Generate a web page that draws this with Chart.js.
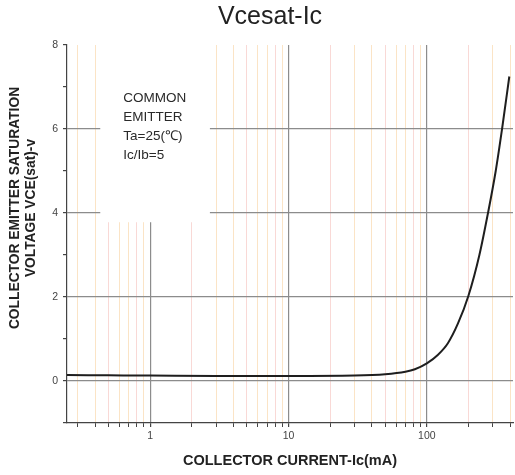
<!DOCTYPE html>
<html>
<head>
<meta charset="utf-8">
<script src="https://cdn.jsdelivr.net/npm/chart.js@4/dist/chart.umd.min.js"></script>
<style>
  html, body { margin: 0; padding: 0; background: #fff; }
  #wrap { width: 515px; height: 475px; }
</style>
</head>
<body>
<div id="wrap"><canvas id="vcesatChart" width="515" height="475"></canvas></div>
<script>
// collector current (mA) and Vce(sat) (V)
const currents = [0.25, 0.5, 1, 3, 10, 30, 50, 70, 82, 100, 120, 142, 168, 200, 240, 277, 315, 350, 395]
const vceSat = [0.14, 0.135, 0.13, 0.12, 0.12, 0.13, 0.16, 0.22, 0.28, 0.42, 0.62, 0.90, 1.37, 2.03, 3.0, 4.0, 5.0, 6.0, 7.25]

const xTicks = [0.3, 0.4, 0.5, 0.6, 0.7, 0.8, 0.9, 1, 2, 3, 4, 5, 6, 7, 8, 9, 10,
  20, 30, 40, 50, 60, 70, 80, 90, 100, 200, 300, 400]
const xLabels = [1, 10, 100]
const yTicks = [-1, 0, 1, 2, 3, 4, 5, 6, 7, 8]
const yLabels = [0, 2, 4, 6, 8]
const yGridLines = [0, 2, 4, 6]

const noteLines = ['COMMON', 'EMITTER', 'Ta=25(\u2103)', 'Ic/Ib=5']
const chartTitle = 'Vcesat-Ic'
const yTitle = ['COLLECTOR EMITTER SATURATION', 'VOLTAGE VCE(sat)-v']

const FONT = '"Liberation Sans", Arial, sans-serif'

function isMajor(v) {
  return xLabels.includes(v)
}

function minorColor(v) {
  // faint orange / pink minor lines like the scanned datasheet
  const d = Math.round(v / Math.pow(10, Math.floor(Math.log10(v) + 1e-9)))
  return (d === 2 || d === 5 || d === 8) ? '#f9d9d6' : '#fbe4c6'
}

// white note box with the test conditions, plus the titles
const decorPlugin = {
  id: 'decor',
  beforeDatasetsDraw(chart) {
    const { ctx, scales: { x, y } } = chart
    const left = x.getPixelForValue(0.435)
    const right = x.getPixelForValue(2.7)
    const top = y.getPixelForValue(8)
    const bottom = y.getPixelForValue(3.78)
    ctx.save()
    ctx.fillStyle = '#fff'
    ctx.fillRect(left, top, right - left, bottom - top)
    ctx.fillStyle = '#2a2a2a'
    ctx.font = '13.5px ' + FONT
    ctx.textBaseline = 'middle'
    noteLines.forEach((t, i) => {
      ctx.fillText(t, left + 23, top + 53 + i * 19)
    })
    ctx.restore()
  },
  afterDraw(chart) {
    const { ctx } = chart
    ctx.save()
    ctx.fillStyle = '#222'
    ctx.textAlign = 'center'
    ctx.textBaseline = 'middle'
    ctx.font = '25px ' + FONT
    ctx.fillText(chartTitle, 270, 17)

    ctx.font = 'bold 13.8px ' + FONT
    ctx.translate(0, 208)
    ctx.rotate(-Math.PI / 2)
    ctx.fillText(yTitle[0], 0, 15)
    ctx.fillText(yTitle[1], 0, 31)
    ctx.restore()
  }
}

const data = {
  datasets: [{
    data: currents.map((c, i) => ({ x: c, y: vceSat[i] })),
    borderColor: '#1e1e1e',
    borderWidth: 2,
    pointRadius: 0,
    fill: false,
    cubicInterpolationMode: 'monotone'
  }]
}

const options = {
  responsive: false,
  animation: false,
  layout: { padding: { left: 0, right: 2, top: 45, bottom: 0 } },
  plugins: {
    legend: { display: false },
    tooltip: { enabled: false }
  },
  scales: {
    x: {
      type: 'logarithmic',
      min: 0.25,
      max: 420,
      afterBuildTicks: scale => {
        scale.ticks = xTicks.map(v => ({ value: v }))
      },
      afterFit: scale => { scale.height = 52 },
      ticks: {
        autoSkip: false,
        maxRotation: 0,
        padding: 3,
        color: '#444',
        font: { family: FONT, size: 10.5 },
        callback: v => isMajor(v) ? String(v) : ''
      },
      grid: {
        color: c => isMajor(c.tick.value) ? '#8c8c8c' : minorColor(c.tick.value),
        lineWidth: c => isMajor(c.tick.value) ? 1.2 : 1,
        tickColor: '#444',
        tickLength: 4
      },
      border: { color: '#444', width: 1.2 },
      title: {
        display: true,
        text: 'COLLECTOR CURRENT-Ic(mA)',
        color: '#222',
        font: { family: FONT, size: 14.5, weight: 'bold' },
        padding: { top: 0, bottom: 5 }
      }
    },
    y: {
      min: -1,
      max: 8,
      afterBuildTicks: scale => {
        scale.ticks = yTicks.map(v => ({ value: v }))
      },
      afterFit: scale => { scale.width = 67 },
      ticks: {
        autoSkip: false,
        padding: 5,
        color: '#444',
        font: { family: FONT, size: 10.5 },
        callback: v => yLabels.includes(v) ? String(v) : ''
      },
      grid: {
        color: c => yGridLines.includes(c.tick.value) ? '#8c8c8c' : 'rgba(0,0,0,0)',
        lineWidth: 1.2,
        tickColor: '#444',
        tickLength: 4
      },
      border: { color: '#444', width: 1.2 }
    }
  }
}

new Chart(document.getElementById('vcesatChart'), {
  type: 'line',
  data: data,
  options: options,
  plugins: [decorPlugin]
})
</script>
</body>
</html>
